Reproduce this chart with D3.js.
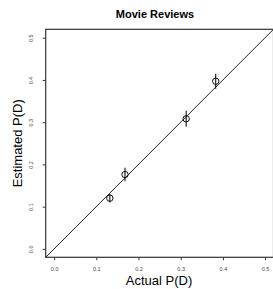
<!DOCTYPE html>
<html>
<head>
<style>
	body { margin: 0; background: #fff; }
	text { font-family: "Liberation Sans", Arial, sans-serif; }
</style>
</head>
<body>
<svg width="273" height="289"></svg>
<script src="https://d3js.org/d3.v7.min.js"></script>
<script>
	const actual = [0.132, 0.168, 0.313, 0.383];
	const estimated = [0.12, 0.176, 0.308, 0.397];
	const errs = [0.010, 0.016, 0.019, 0.018];
	const ticks = [0, 0.1, 0.2, 0.3, 0.4, 0.5];

	const svg = d3.select("svg");
	const box = { left: 45.7, right: 273.5, top: 29.3, bottom: 257.3 }; // plot region

	const x = d3.scaleLinear().domain([-0.02, 0.52]).range([box.left, box.right]);
	const y = d3.scaleLinear().domain([-0.02, 0.52]).range([box.bottom, box.top]);

	// title
	svg.append("text")
		.attr("x", 155)
		.attr("y", 18)
		.attr("text-anchor", "middle")
		.style("font-size", "11px")
		.style("font-weight", "bold")
		.text("Movie Reviews");

	// y = x line
	svg.append("line")
		.attr("x1", x(-0.02)).attr("y1", y(-0.02))
		.attr("x2", x(0.52)).attr("y2", y(0.52))
		.attr("stroke", "#222")
		.attr("stroke-width", 1);

	// box
	svg.append("rect")
		.attr("x", box.left)
		.attr("y", box.top)
		.attr("width", box.right - box.left)
		.attr("height", box.bottom - box.top)
		.attr("fill", "none")
		.attr("stroke", "#333")
		.attr("stroke-width", 1.2);

	// x axis
	const xg = svg.append("g").attr("transform", "translate(0," + box.bottom + ")");
	xg.call(d3.axisBottom(x).tickValues(ticks).tickFormat(d3.format(".1f")).tickSize(3).tickPadding(7));
	xg.select(".domain").remove();
	xg.selectAll("text").style("font-size", "5.5px").attr("fill", "#444")
		.style("font-family", "Liberation Sans, Arial, sans-serif");
	xg.selectAll("line").attr("stroke", "#333");

	// y axis
	const yg = svg.append("g").attr("transform", "translate(" + box.left + ",0)");
	yg.call(d3.axisLeft(y).tickValues(ticks).tickFormat(d3.format(".1f")).tickSize(3));
	yg.select(".domain").remove();
	yg.selectAll("line").attr("stroke", "#333");
	yg.selectAll("text")
		.attr("x", null).attr("dy", null)
		.attr("text-anchor", "middle")
		.attr("transform", "translate(-13,0) rotate(-90)")
		.style("font-size", "5.5px")
		.style("font-family", "Liberation Sans, Arial, sans-serif")
		.attr("fill", "#444");

	// axis labels
	svg.append("text")
		.attr("x", 159)
		.attr("y", 285)
		.attr("text-anchor", "middle")
		.style("font-size", "13px")
		.text("Actual P(D)");

	svg.append("text")
		.attr("transform", "translate(21.5," + (box.top + box.bottom) / 2 + ") rotate(-90)")
		.attr("text-anchor", "middle")
		.style("font-size", "13px")
		.text("Estimated P(D)");

	// points with error bars
	const pts = actual.map((a, i) => ({ a: a, e: estimated[i], s: errs[i] }));
	const pg = svg.append("g");
	pg.selectAll("line")
		.data(pts)
		.join("line")
		.attr("x1", (d) => x(d.a)).attr("x2", (d) => x(d.a))
		.attr("y1", (d) => y(d.e - d.s)).attr("y2", (d) => y(d.e + d.s))
		.attr("stroke", "#111")
		.attr("stroke-width", 1.1);
	pg.selectAll("circle")
		.data(pts)
		.join("circle")
		.attr("cx", (d) => x(d.a))
		.attr("cy", (d) => y(d.e))
		.attr("r", 3.2)
		.attr("fill", "none")
		.attr("stroke", "#111")
		.attr("stroke-width", 1);
</script>
</body>
</html>
